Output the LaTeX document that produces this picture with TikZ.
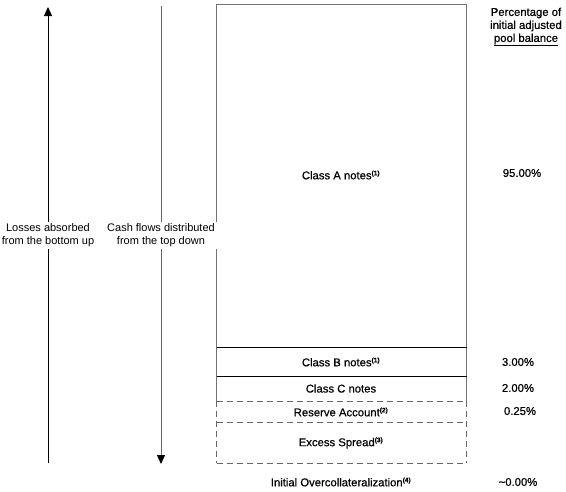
\documentclass[tikz,border=0pt]{standalone}
\usepackage{fontspec}
\setmainfont{Liberation Sans}
\newfontfamily\semib[FakeBold=0.6]{Liberation Sans}
\usetikzlibrary{arrows.meta}
\tikzset{
  lbl/.style={font=\semib\fontsize{11.3}{13}\selectfont, inner sep=1pt, align=center},
  flowlbl/.style={font=\fontsize{11}{13}\selectfont, align=center, fill=white, inner sep=2pt},
  pct/.style={font=\semib\fontsize{11.3}{13}\selectfont, inner sep=0pt},
  solidedge/.style={draw=black!55, line width=0.9pt},
  tierline/.style={draw=black, line width=0.9pt},
  dashedge/.style={draw=black!60, line width=0.9pt, dash pattern=on 6pt off 4pt},
  flowarrow/.style={line width=1pt, -{Triangle[length=9pt,width=8pt,color=black]}},
}
\newcommand{\fn}[1]{\textsuperscript{\fontsize{6.5}{6.5}\selectfont\bfseries(#1)}}
\begin{document}
\begin{tikzpicture}[x=1pt,y=-1pt]
\useasboundingbox (0,0) rectangle (566,491);
% coordinates for the tranche stack
\coordinate (tl) at (216.5,4);
\coordinate (tr) at (466.5,4);
\coordinate (al) at (216.5,347);
\coordinate (ar) at (466.5,347);
\coordinate (bl) at (216.5,376);
\coordinate (br) at (466.5,376);
\coordinate (cl) at (216.5,401);
\coordinate (cr) at (466.5,401);
\coordinate (rl) at (216.5,422.5);
\coordinate (rr) at (466.5,422.5);
\coordinate (el) at (216.5,463);
\coordinate (er) at (466.5,463);
% solid part
\draw[solidedge] (cl) -- (tl) -- (tr) -- (cr);
\draw[tierline] (al) -- (ar);
\draw[tierline] (bl) -- (br);
% dashed part
\draw[dashedge] (cl) -- (cr);
\draw[dashedge] (cl) -- (el);
\draw[dashedge] (cr) -- (er);
\draw[dashedge] (rl) -- (rr);
\draw[dashedge] (el) -- (er);
% tier labels
\node[lbl] (classA) at (341,175) {Class A notes\fn{1}};
\node[lbl] (classB) at (341,362) {Class B notes\fn{1}};
\node[lbl] (classC) at (341,388.5) {Class C notes};
\node[lbl] (reserve) at (341,412) {Reserve Account\fn{2}};
\node[lbl] (excess) at (341,443) {Excess Spread\fn{3}};
\node[lbl] (oc) at (341,482) {Initial Overcollateralization\fn{4}};
% percentages
\node[lbl] (hdr) at (526,27) {Percentage of\\initial adjusted\\\underline{pool balance}};
\node[pct] (pA) at (522,173) {95.00\%};
\node[pct] (pB) at (518,362) {3.00\%};
\node[pct] (pC) at (518,388) {2.00\%};
\node[pct] (pR) at (520,411) {0.25\%};
\node[pct] (pO) at (518,482) {\textasciitilde 0.00\%};
% flow arrows
\coordinate (lossbot) at (48,463);
\coordinate (losstop) at (48,7);
\coordinate (cashtop) at (161,6);
\coordinate (cashbot) at (161,464);
\draw[flowarrow, black] (lossbot) -- (losstop);
\draw[flowarrow, black!60] (cashtop) -- (cashbot);
\node[flowlbl] (losslbl) at (48,235.5) {Losses absorbed\\from the bottom up};
\node[flowlbl] (cashlbl) at (161,235.5) {Cash flows distributed\\from the top down};
\end{tikzpicture}
\end{document}
